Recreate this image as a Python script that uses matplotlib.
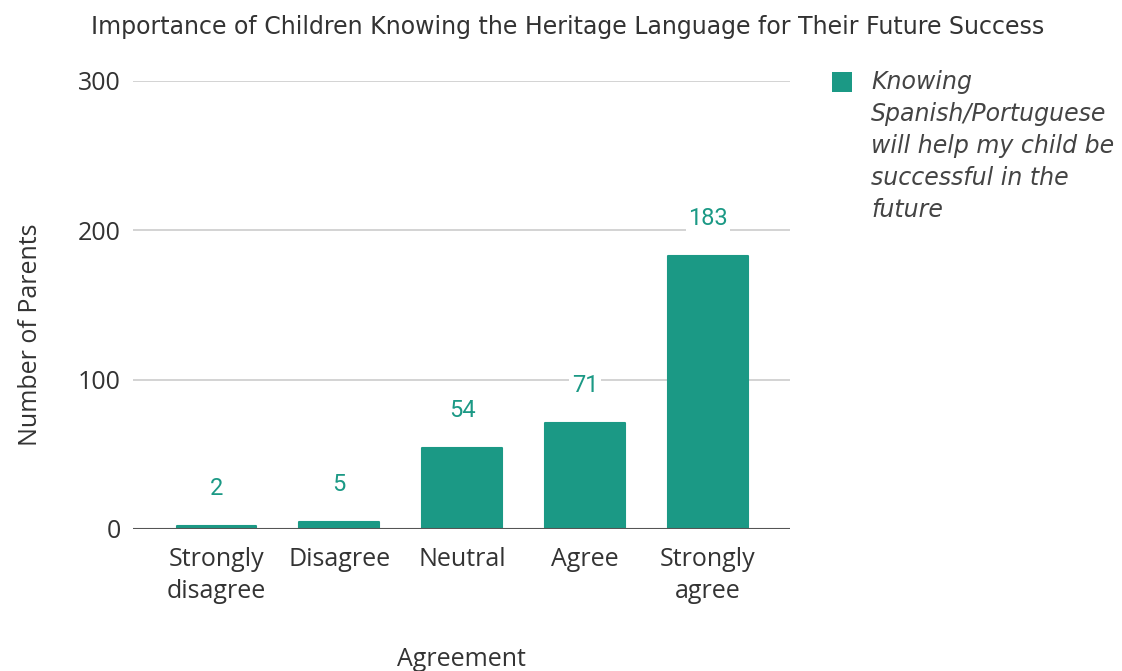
import matplotlib.pyplot as plt
from matplotlib.patches import Rectangle

categories = ["Strongly\ndisagree", "Disagree", "Neutral", "Agree", "Strongly\nagree"]
counts = [2, 5, 54, 71, 183]
series_name = "Knowing\nSpanish/Portuguese\nwill help my child be\nsuccessful in the\nfuture"
yticks = [0, 100, 200, 300]

teal = "#1b9985"
text_gray = "#333333"
W, H = 1122, 671

fig = plt.figure(figsize=(W / 100, H / 100), dpi=100)
ax = fig.add_axes([133 / W, 1 - 529 / H, (790 - 133) / W, (529 - 81) / H])

x = list(range(len(categories)))
ax.bar(x, counts, width=0.65, color=teal, edgecolor=teal, linewidth=1.5,
       joinstyle="round", zorder=3)

# value labels above each bar, white box knocks out the gridline
for xi, v in zip(x, counts):
    ax.annotate(str(v), (xi, v), xytext=(0, 27), textcoords="offset points",
                ha="center", va="center", fontsize=17, color=teal,
                family="Roboto", zorder=4,
                bbox=dict(boxstyle="square,pad=0.1", fc="white", ec="none"))

ax.set_xlim(-0.68, 4.67)
ax.set_ylim(0, 300)
ax.set_yticks(yticks)
ax.set_xticks(x)
ax.set_xticklabels(categories, fontsize=18, family="Open Sans", color=text_gray,
                   linespacing=1.35)
ax.set_yticklabels([str(t) for t in yticks], fontsize=18, family="Open Sans",
                   color=text_gray)
ax.tick_params(length=0)
ax.tick_params(axis="x", pad=13)
ax.tick_params(axis="y", pad=9)

ax.grid(axis="y", color="#cccccc", linewidth=1.2, zorder=0)
ax.axhline(0, color="#555555", linewidth=1.5, zorder=4)
for s in ax.spines.values():
    s.set_visible(False)

ax.set_xlabel("Agreement", fontsize=18, family="Open Sans", color=text_gray,
              labelpad=31)
ax.set_ylabel("Number of Parents", fontsize=18, family="Open Sans",
              color=text_gray)
ax.yaxis.set_label_coords(-0.137, 0.433)

fig.text(0.506, 1 - 27 / H, "Importance of Children Knowing the Heritage Language for Their Future Success",
         ha="center", va="center", fontsize=17, family="DejaVu Sans", color="#333333")

# legend: swatch plus wrapped italic label
fig.patches.append(Rectangle((832 / W, 1 - 92 / H), 20 / W, 20 / H,
                             transform=fig.transFigure, fc=teal, ec="none"))
for i, line in enumerate(series_name.split("\n")):
    fig.text(871 / W, 1 - (82 + 32 * i) / H, line, ha="left", va="center",
             fontsize=17, style="italic", family="DejaVu Sans", color="#444444")

fig.savefig("out.png", dpi=100, facecolor="white")
